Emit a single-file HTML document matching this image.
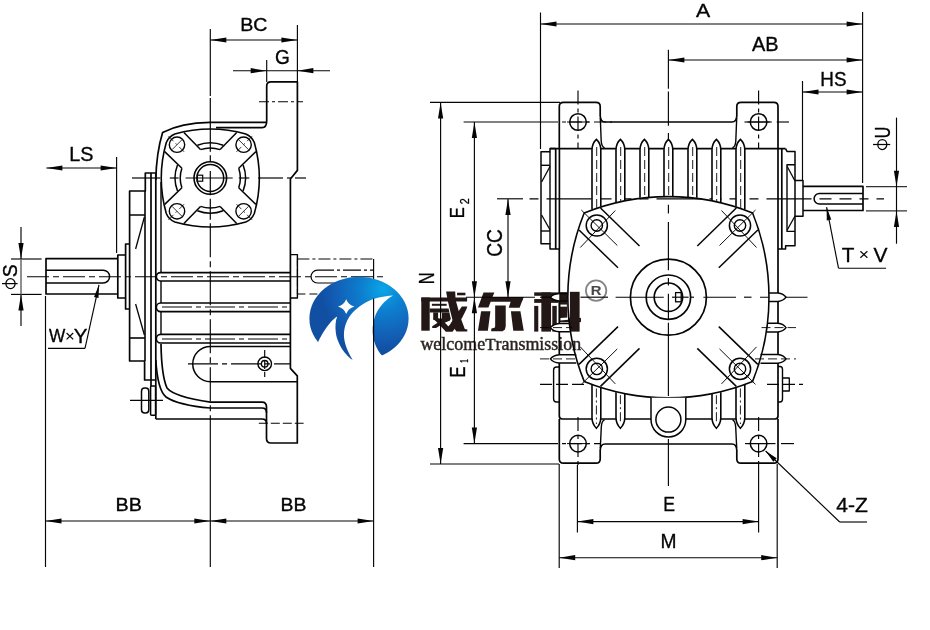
<!DOCTYPE html>
<html><head><meta charset="utf-8"><title>Dimensions</title>
<style>
html,body{margin:0;padding:0;background:#fff;}
body{width:930px;height:630px;overflow:hidden;font-family:"Liberation Sans",sans-serif;}
svg{display:block;will-change:transform;transform:translateZ(0)}
</style></head>
<body>
<svg width="930" height="630" viewBox="0 0 930 630">
<rect width="930" height="630" fill="#ffffff"/>
<line x1="210.3" y1="29.0" x2="210.3" y2="96.0" stroke="#050505" stroke-width="1.15" stroke-linecap="butt"/>
<line x1="297.4" y1="25.0" x2="297.4" y2="82.0" stroke="#050505" stroke-width="1.15" stroke-linecap="butt"/>
<line x1="210.3" y1="40.0" x2="297.4" y2="40.0" stroke="#050505" stroke-width="1.15" stroke-linecap="butt"/>
<polygon points="210.3,40.0 226.3,37.4 226.3,42.6" fill="#050505"/>
<polygon points="297.4,40.0 281.4,42.6 281.4,37.4" fill="#050505"/>
<text transform="translate(240.15,31.26) scale(1.0217,1)" font-family="'Liberation Sans', sans-serif" font-size="19.22" fill="#050505" stroke="#050505" stroke-width="0.35" stroke-linejoin="round">BC</text>
<line x1="266.7" y1="60.0" x2="266.7" y2="82.0" stroke="#050505" stroke-width="1.15" stroke-linecap="butt"/>
<line x1="233.0" y1="70.7" x2="330.0" y2="70.7" stroke="#050505" stroke-width="1.15" stroke-linecap="butt"/>
<polygon points="266.7,70.7 250.7,73.3 250.7,68.1" fill="#050505"/>
<polygon points="297.4,70.7 313.4,68.1 313.4,73.3" fill="#050505"/>
<text transform="translate(275.05,64.35) scale(0.9759,1)" font-family="'Liberation Sans', sans-serif" font-size="19.51" fill="#050505" stroke="#050505" stroke-width="0.35" stroke-linejoin="round">G</text>
<line x1="259.0" y1="101.7" x2="303.0" y2="101.7" stroke="#050505" stroke-width="1.15" stroke-dasharray="10 3 3 3" stroke-linecap="butt"/>
<line x1="116.6" y1="157.0" x2="116.6" y2="253.0" stroke="#050505" stroke-width="1.15" stroke-linecap="butt"/>
<line x1="46.4" y1="168.0" x2="116.6" y2="168.0" stroke="#050505" stroke-width="1.15" stroke-linecap="butt"/>
<polygon points="46.4,168.0 62.4,165.4 62.4,170.6" fill="#050505"/>
<polygon points="116.6,168.0 100.6,170.6 100.6,165.4" fill="#050505"/>
<text transform="translate(69.25,160.75) scale(0.9794,1)" font-family="'Liberation Sans', sans-serif" font-size="20.21" fill="#050505" stroke="#050505" stroke-width="0.35" stroke-linejoin="round">LS</text>
<line x1="11.0" y1="259.0" x2="41.6" y2="259.0" stroke="#050505" stroke-width="1.15" stroke-linecap="butt"/>
<line x1="11.0" y1="294.4" x2="41.6" y2="294.4" stroke="#050505" stroke-width="1.15" stroke-linecap="butt"/>
<line x1="21.0" y1="227.0" x2="21.0" y2="259.0" stroke="#050505" stroke-width="1.15" stroke-linecap="butt"/>
<line x1="21.0" y1="294.4" x2="21.0" y2="326.0" stroke="#050505" stroke-width="1.15" stroke-linecap="butt"/>
<line x1="21.0" y1="259.0" x2="21.0" y2="294.4" stroke="#6a6a6a" stroke-width="1.5" stroke-linecap="butt"/>
<polygon points="21.0,259.0 18.4,243.0 23.6,243.0" fill="#050505"/>
<polygon points="21.0,294.4 23.6,310.4 18.4,310.4" fill="#050505"/>
<text transform="translate(16.80,277.25) rotate(-90) scale(0.9503,1)" font-family="'Liberation Sans', sans-serif" font-size="20.49" fill="#050505" stroke="#050505" stroke-width="0.35" stroke-linejoin="round">S</text>
<ellipse cx="10.5" cy="283.6" rx="4.6" ry="5.0" fill="none" stroke="#050505" stroke-width="1.25"/><line x1="2.0" y1="283.6" x2="17.6" y2="283.6" stroke="#050505" stroke-width="1.25" stroke-linecap="butt"/>
<line x1="48.0" y1="348.4" x2="85.0" y2="348.4" stroke="#050505" stroke-width="1.15" stroke-linecap="butt"/>
<line x1="85.0" y1="348.4" x2="99.0" y2="284.8" stroke="#050505" stroke-width="1.15" stroke-linecap="butt"/>
<polygon points="99.0,284.8 98.5,298.0 94.0,297.0" fill="#050505"/>
<text transform="translate(49.05,341.75) scale(0.9720,1)" font-family="'Liberation Sans', sans-serif" font-size="17.75" fill="#050505" stroke="#050505" stroke-width="0.35" stroke-linejoin="round">W</text>
<text transform="translate(73.65,343.45) scale(1.0151,1)" font-family="'Liberation Sans', sans-serif" font-size="20.22" fill="#050505" stroke="#050505" stroke-width="0.35" stroke-linejoin="round">Y</text>
<line x1="66.6" y1="333.0" x2="73.2" y2="339.4" stroke="#050505" stroke-width="1.2" stroke-linecap="butt"/>
<line x1="66.6" y1="339.4" x2="73.2" y2="333.0" stroke="#050505" stroke-width="1.2" stroke-linecap="butt"/>
<line x1="45.5" y1="296.0" x2="45.5" y2="567.0" stroke="#050505" stroke-width="1.15" stroke-linecap="butt"/>
<line x1="210.3" y1="440.0" x2="210.3" y2="567.0" stroke="#050505" stroke-width="1.15" stroke-linecap="butt"/>
<line x1="373.6" y1="259.0" x2="373.6" y2="281.0" stroke="#050505" stroke-width="1.15" stroke-linecap="butt"/>
<line x1="45.5" y1="521.0" x2="373.6" y2="521.0" stroke="#050505" stroke-width="1.15" stroke-linecap="butt"/>
<polygon points="45.5,521.0 61.5,518.4 61.5,523.6" fill="#050505"/>
<polygon points="210.3,521.0 194.3,523.6 194.3,518.4" fill="#050505"/>
<polygon points="210.3,521.0 226.3,518.4 226.3,523.6" fill="#050505"/>
<polygon points="373.6,521.0 357.6,523.6 357.6,518.4" fill="#050505"/>
<text transform="translate(115.55,510.75) scale(1.0790,1)" font-family="'Liberation Sans', sans-serif" font-size="18.33" fill="#050505" stroke="#050505" stroke-width="0.35" stroke-linejoin="round">BB</text>
<text transform="translate(280.45,510.75) scale(1.0586,1)" font-family="'Liberation Sans', sans-serif" font-size="18.33" fill="#050505" stroke="#050505" stroke-width="0.35" stroke-linejoin="round">BB</text>
<line x1="210.3" y1="98.0" x2="210.3" y2="151.7" stroke="#050505" stroke-width="1.2" stroke-linecap="butt"/>
<line x1="210.3" y1="155.2" x2="210.3" y2="161.3" stroke="#050505" stroke-width="1.2" stroke-linecap="butt"/>
<line x1="210.3" y1="170.9" x2="210.3" y2="195.3" stroke="#050505" stroke-width="1.2" stroke-linecap="butt"/>
<line x1="210.3" y1="198.8" x2="210.3" y2="219.8" stroke="#050505" stroke-width="1.2" stroke-linecap="butt"/>
<line x1="210.3" y1="223.3" x2="210.3" y2="440.0" stroke="#050505" stroke-width="1.15" stroke-dasharray="34 4 6 4" stroke-linecap="butt"/>
<line x1="132.0" y1="178.0" x2="160.2" y2="178.0" stroke="#050505" stroke-width="1.2" stroke-linecap="butt"/>
<line x1="169.8" y1="178.0" x2="178.6" y2="178.0" stroke="#050505" stroke-width="1.2" stroke-linecap="butt"/>
<line x1="185.6" y1="178.0" x2="232.7" y2="178.0" stroke="#050505" stroke-width="1.2" stroke-linecap="butt"/>
<line x1="238.8" y1="178.0" x2="249.3" y2="178.0" stroke="#050505" stroke-width="1.2" stroke-linecap="butt"/>
<line x1="258.0" y1="178.0" x2="283.0" y2="178.0" stroke="#050505" stroke-width="1.2" stroke-linecap="butt"/>
<line x1="287.0" y1="178.0" x2="291.0" y2="178.0" stroke="#050505" stroke-width="1.2" stroke-linecap="butt"/>
<line x1="295.0" y1="178.0" x2="306.0" y2="178.0" stroke="#050505" stroke-width="1.2" stroke-linecap="butt"/>
<line x1="27.0" y1="276.7" x2="385.0" y2="276.7" stroke="#050505" stroke-width="1.15" stroke-dasharray="22 4 6 4" stroke-linecap="butt"/>
<line x1="162.0" y1="307.0" x2="290.0" y2="307.0" stroke="#050505" stroke-width="1.15" stroke-dasharray="30 4 5 4" stroke-linecap="butt"/>
<line x1="162.0" y1="339.0" x2="290.0" y2="339.0" stroke="#050505" stroke-width="1.15" stroke-dasharray="30 4 5 4" stroke-linecap="butt"/>
<line x1="188.0" y1="363.8" x2="290.0" y2="363.8" stroke="#050505" stroke-width="1.15" stroke-dasharray="30 4 5 4" stroke-linecap="butt"/>
<line x1="258.8" y1="423.2" x2="303.6" y2="423.2" stroke="#050505" stroke-width="1.15" stroke-dasharray="9 3" stroke-linecap="butt"/>
<line x1="130.0" y1="400.3" x2="163.0" y2="400.3" stroke="#050505" stroke-width="1.15" stroke-linecap="butt"/>
<path d="M262,127.6 Q266.7,127.6 266.7,121 L266.7,86 Q266.7,81.9 271,81.9 L297.4,81.9 L297.4,170.4 L290.4,179 L290.4,368.3 L297.3,375.8 L297.3,443 L271,443 Q266.5,443 266.5,438.5 L266.5,407 Q266.5,402.2 262,402.2 L210.4,402.2 C185,398.5 172,394 167,388 C162.5,378 161.3,362 161,344" fill="none" stroke="#050505" stroke-width="1.7" stroke-linejoin="round"/>
<path d="M266,122.4 L210,122.4 C192,122.6 175,126 162.6,132.6 C158.5,146 156.2,160 155.8,180" fill="none" stroke="#050505" stroke-width="1.7" stroke-linejoin="round"/>
<path d="M262,127.6 L216,127.6" fill="none" stroke="#050505" stroke-width="1.7" stroke-linejoin="round"/>
<path d="M155.8,360 C157,380 160,392 166,397 C175,403 192,406.5 210.4,408 L262,408 Q266.5,408 266.5,412.5" fill="none" stroke="#050505" stroke-width="1.7" stroke-linejoin="round"/>
<path d="M155.8,419 L262,419 Q266.5,419 266.5,423.5" fill="none" stroke="#050505" stroke-width="1.7" stroke-linejoin="round"/>
<line x1="155.8" y1="173.0" x2="155.8" y2="419.0" stroke="#050505" stroke-width="1.7" stroke-linecap="butt"/>
<line x1="151.0" y1="173.0" x2="151.0" y2="386.0" stroke="#050505" stroke-width="1.7" stroke-linecap="butt"/>
<line x1="161.0" y1="182.0" x2="161.0" y2="272.6" stroke="#050505" stroke-width="1.4" stroke-linecap="butt"/>
<line x1="161.0" y1="281.0" x2="161.0" y2="303.0" stroke="#050505" stroke-width="1.4" stroke-linecap="butt"/>
<line x1="161.0" y1="311.6" x2="161.0" y2="334.4" stroke="#050505" stroke-width="1.4" stroke-linecap="butt"/>
<path d="M155.8,173 L145.3,173 L145.3,191 L129.6,191 L129.6,361 L144.6,361 L144.6,380 L155.8,380" fill="none" stroke="#050505" stroke-width="1.7" stroke-linejoin="round"/>
<line x1="145.0" y1="191.0" x2="145.0" y2="361.0" stroke="#050505" stroke-width="1.6" stroke-linecap="butt"/>
<line x1="129.6" y1="215.0" x2="145.0" y2="215.0" stroke="#050505" stroke-width="1.5" stroke-linecap="butt"/>
<line x1="129.6" y1="338.0" x2="145.0" y2="338.0" stroke="#050505" stroke-width="1.6" stroke-linecap="butt"/>
<line x1="144.4" y1="217.0" x2="135.6" y2="249.0" stroke="#050505" stroke-width="1.3" stroke-linecap="butt"/>
<line x1="135.6" y1="304.0" x2="144.4" y2="335.0" stroke="#050505" stroke-width="1.3" stroke-linecap="butt"/>
<path d="M129.6,244 L125.6,244 L125.6,309 L129.6,309" fill="none" stroke="#050505" stroke-width="1.7" stroke-linejoin="round"/>
<path d="M125.6,255 L117.8,255 L117.8,298 L125.6,298" fill="none" stroke="#050505" stroke-width="1.7" stroke-linejoin="round"/>
<path d="M117.8,258.7 L46,258.7 L46,294 L117.8,294" fill="none" stroke="#050505" stroke-width="1.7" stroke-linejoin="round"/>
<path d="M46,270.2 L103.2,270.2 A6.4,6.4 0 0 1 103.2,283 L46,283" fill="none" stroke="#050505" stroke-width="1.5" stroke-linejoin="round"/>
<path d="M290.4,272.6 L160.5,272.6 A4.2,4.2 0 0 0 160.5,281 L290.4,281" fill="none" stroke="#050505" stroke-width="1.7" stroke-linejoin="round"/>
<path d="M290.4,303 L160.6,303 A4.3,4.3 0 0 0 160.6,311.6 L290.4,311.6" fill="none" stroke="#050505" stroke-width="1.7" stroke-linejoin="round"/>
<path d="M290.4,334.4 L160.6,334.4 A4.3,4.3 0 0 0 160.6,343 L290.4,343" fill="none" stroke="#050505" stroke-width="1.7" stroke-linejoin="round"/>
<path d="M290.4,346.4 L210.4,346.4 A17.65,17.65 0 0 0 210.4,381.7 L297.3,381.7" fill="none" stroke="#050505" stroke-width="1.5" stroke-linejoin="round"/>
<circle cx="264.7" cy="363.8" r="6.8" fill="none" stroke="#050505" stroke-width="1.4"/>
<circle cx="264.7" cy="363.8" r="3.3" fill="none" stroke="#050505" stroke-width="1.3"/>
<line x1="264.7" y1="350.0" x2="264.7" y2="377.0" stroke="#050505" stroke-width="1.15" stroke-dasharray="8 3" stroke-linecap="butt"/>
<rect x="141.5" y="388" width="7.3" height="25" rx="3.2" fill="none" stroke="#050505" stroke-width="1.5"/>
<rect x="150.6" y="386" width="5" height="29.3" rx="1" fill="none" stroke="#050505" stroke-width="1.5"/>
<path d="M290.4,254.6 L297.4,254.6 L297.4,298 L290.4,298" fill="none" stroke="#050505" stroke-width="1.4" stroke-linejoin="round"/>
<path d="M297.4,259 L373.6,259" fill="none" stroke="#050505" stroke-width="1.2" stroke-linejoin="round" stroke-dasharray="12 3 3 3"/>
<path d="M297.4,294 L332,294" fill="none" stroke="#050505" stroke-width="1.2" stroke-linejoin="round" stroke-dasharray="8 4"/>
<path d="M297.4,259 L297.4,294" fill="none" stroke="#050505" stroke-width="1.0" stroke-linejoin="round" stroke-dasharray="7 3"/>
<path d="M334,270.2 L317.4,270.2 A6.4,6.4 0 0 0 317.4,283 L340,283" fill="none" stroke="#050505" stroke-width="1.2" stroke-linejoin="round"/>
<path d="M337,270.2 L373.6,270.2" fill="none" stroke="#050505" stroke-width="1.2" stroke-linejoin="round" stroke-dasharray="3 3 18 3"/>
<path d="M174.8,134.0 A129.5,129.5 0 0 1 245.8,134.0 Q251.8,136.5 254.3,142.5 A129.5,129.5 0 0 1 254.3,213.5 Q251.8,219.5 245.8,222.0 A129.5,129.5 0 0 1 174.8,222.0 Q168.8,219.5 166.3,213.5 A129.5,129.5 0 0 1 166.3,142.5 Q168.8,136.5 174.8,134.0 Z" fill="none" stroke="#050505" stroke-width="1.6" stroke-linejoin="round"/>
<circle cx="177.0" cy="144.7" r="7.7" fill="none" stroke="#050505" stroke-width="1.4"/>
<line x1="184.1" y1="151.8" x2="167.8" y2="135.5" stroke="#050505" stroke-width="0.8" stroke-dasharray="7 3 2 3" stroke-linecap="butt"/>
<line x1="182.0" y1="139.7" x2="172.0" y2="149.7" stroke="#050505" stroke-width="0.8" stroke-linecap="butt"/>
<line x1="183.9" y1="132.4" x2="200.5" y2="149.6" stroke="#050505" stroke-width="1.5" stroke-linecap="butt"/>
<line x1="164.7" y1="151.6" x2="181.9" y2="168.2" stroke="#050505" stroke-width="1.5" stroke-linecap="butt"/>
<circle cx="177.0" cy="211.3" r="7.7" fill="none" stroke="#050505" stroke-width="1.4"/>
<line x1="184.1" y1="204.2" x2="167.8" y2="220.5" stroke="#050505" stroke-width="0.8" stroke-dasharray="7 3 2 3" stroke-linecap="butt"/>
<line x1="182.0" y1="216.3" x2="172.0" y2="206.3" stroke="#050505" stroke-width="0.8" stroke-linecap="butt"/>
<line x1="183.9" y1="223.6" x2="200.5" y2="206.4" stroke="#050505" stroke-width="1.5" stroke-linecap="butt"/>
<line x1="164.7" y1="204.4" x2="181.9" y2="187.8" stroke="#050505" stroke-width="1.5" stroke-linecap="butt"/>
<circle cx="243.6" cy="144.7" r="7.7" fill="none" stroke="#050505" stroke-width="1.4"/>
<line x1="236.5" y1="151.8" x2="252.8" y2="135.5" stroke="#050505" stroke-width="0.8" stroke-dasharray="7 3 2 3" stroke-linecap="butt"/>
<line x1="238.6" y1="139.7" x2="248.6" y2="149.7" stroke="#050505" stroke-width="0.8" stroke-linecap="butt"/>
<line x1="236.7" y1="132.4" x2="220.1" y2="149.6" stroke="#050505" stroke-width="1.5" stroke-linecap="butt"/>
<line x1="255.9" y1="151.6" x2="238.7" y2="168.2" stroke="#050505" stroke-width="1.5" stroke-linecap="butt"/>
<circle cx="243.6" cy="211.3" r="7.7" fill="none" stroke="#050505" stroke-width="1.4"/>
<line x1="236.5" y1="204.2" x2="252.8" y2="220.5" stroke="#050505" stroke-width="0.8" stroke-dasharray="7 3 2 3" stroke-linecap="butt"/>
<line x1="238.6" y1="216.3" x2="248.6" y2="206.3" stroke="#050505" stroke-width="0.8" stroke-linecap="butt"/>
<line x1="236.7" y1="223.6" x2="220.1" y2="206.4" stroke="#050505" stroke-width="1.5" stroke-linecap="butt"/>
<line x1="255.9" y1="204.4" x2="238.7" y2="187.8" stroke="#050505" stroke-width="1.5" stroke-linecap="butt"/>
<path d="M200.5,149.6 A30,30 0 0 1 220.1,149.6" fill="none" stroke="#050505" stroke-width="1.5" stroke-linejoin="round"/>
<path d="M197.4,145.2 A35.3,35.3 0 0 1 223.2,145.2" fill="none" stroke="#050505" stroke-width="1.5" stroke-linejoin="round"/>
<path d="M238.7,168.2 A30,30 0 0 1 238.7,187.8" fill="none" stroke="#050505" stroke-width="1.5" stroke-linejoin="round"/>
<path d="M243.1,165.1 A35.3,35.3 0 0 1 243.1,190.9" fill="none" stroke="#050505" stroke-width="1.5" stroke-linejoin="round"/>
<path d="M220.1,206.4 A30,30 0 0 1 200.5,206.4" fill="none" stroke="#050505" stroke-width="1.5" stroke-linejoin="round"/>
<path d="M223.2,210.8 A35.3,35.3 0 0 1 197.4,210.8" fill="none" stroke="#050505" stroke-width="1.5" stroke-linejoin="round"/>
<path d="M181.9,187.8 A30,30 0 0 1 181.9,168.2" fill="none" stroke="#050505" stroke-width="1.5" stroke-linejoin="round"/>
<path d="M177.5,190.9 A35.3,35.3 0 0 1 177.5,165.1" fill="none" stroke="#050505" stroke-width="1.5" stroke-linejoin="round"/>
<circle cx="210.3" cy="178.0" r="16.3" fill="none" stroke="#050505" stroke-width="1.6"/>
<circle cx="210.3" cy="178.0" r="13.4" fill="none" stroke="#050505" stroke-width="1.5"/>
<rect x="197.3" y="175.2" width="5.4" height="6" fill="none" stroke="#050505" stroke-width="1.2"/>
<defs>
<radialGradient id="lg" gradientUnits="userSpaceOnUse" cx="383" cy="289" r="62">
<stop offset="0" stop-color="#0aa6e8"/><stop offset="0.35" stop-color="#0d7fcf"/><stop offset="0.75" stop-color="#1260b6"/><stop offset="1" stop-color="#114fa3"/>
</radialGradient>
</defs>
<ellipse cx="359" cy="318.5" rx="49.6" ry="41.8" fill="url(#lg)"/>
<path d="M316.8,344.8 C320.3,337 325,328.6 330.4,322.6 C333,319.7 335,318 337.2,316.6 C335.4,321 335.1,327 335.9,333.3 C336.4,337 337.4,339.5 338.3,341.5 C339.6,345 341.2,347.8 343.1,350.4 C345,353 347.2,355.6 349.9,357.9 C350.9,358.8 351.9,359.7 353.2,360.9 L340,367 L316,354 Z" fill="#fff"/>
<path d="M353,360.6 C350.6,356.6 349,353.6 347.9,351 C346.2,347.2 345.2,344.2 344.7,341.5 C343.7,337 343.6,332.5 344.7,327.8 C345.5,324 346.8,321 348.9,317.4 C351,314 354,311 357.6,308 C361,305.4 364.5,303 368.7,301 C372,299.3 376,298 380,297.2 C384,296.2 388,295.8 393,295.4 C389.5,297.3 387,299.5 384.6,301.8 C382,304.3 380,307 378.2,309.8 C376.4,312.6 375.2,315.5 374.2,319.2 C373,323 372.6,326.5 372.6,330.4 C372.6,334.5 373.2,338 374.3,341.6 C375.3,345 376.5,347.8 378.2,350.4 C379.5,352.6 381,354.6 383,356.6 L378,364 L354,366 Z" fill="#fff"/>
<path d="M338.0,306.6 Q344.09999999999997,304.70000000000005 346.2,299.20000000000005 Q348.3,304.70000000000005 354.4,306.6 Q348.3,308.5 346.2,314.0 Q344.09999999999997,308.5 338.0,306.6 Z" fill="#fff"/>
<polygon points="421.30,297.50 429.70,297.50 429.70,330.70 421.30,330.70" fill="#231815"/>
<polygon points="421.30,297.50 467.10,297.50 467.10,301.50 421.30,301.50" fill="#231815"/>
<polygon points="446.10,291.60 455.20,291.60 455.60,300.00 457.20,305.50 460.50,317.50 464.80,329.00 467.30,329.50 467.30,331.40 456.50,331.40 454.60,329.00 452.00,318.00 449.50,308.00 447.60,300.00" fill="#231815"/>
<polygon points="461.90,306.50 467.30,306.50 466.50,309.00 462.00,318.00 457.50,325.00 452.70,331.40 445.70,331.40 445.70,329.30 450.00,324.50 454.00,318.00 458.00,312.00" fill="#231815"/>
<polygon points="457.10,292.70 465.40,292.70 465.40,295.30 457.10,295.30" fill="#231815"/>
<polygon points="431.90,303.80 446.70,303.80 446.70,305.80 431.90,305.80" fill="#231815"/>
<polygon points="429.70,308.60 448.60,308.60 449.40,312.40 429.70,312.40" fill="#231815"/>
<polygon points="433.20,312.40 438.10,312.40 438.10,318.90 433.20,318.90" fill="#231815"/>
<polygon points="441.90,312.40 449.40,312.40 450.80,318.90 441.90,318.90" fill="#231815"/>
<polygon points="433.20,318.40 450.80,318.40 450.00,320.50 445.80,322.20 436.00,328.10 432.20,328.10 432.20,326.30 439.50,321.50 433.20,319.80" fill="#231815"/>
<polygon points="433.20,318.40 438.50,318.40 446.00,323.80 452.70,331.40 445.70,331.40 441.00,326.50" fill="#231815"/>
<polygon points="483.51,292.54 494.38,292.54 492.48,296.90 523.59,296.90 521.84,301.67 490.65,301.67 488.43,307.38 477.95,307.38" fill="#231815"/>
<polygon points="512.08,296.90 523.59,296.90 519.62,307.78 508.75,307.78" fill="#231815"/>
<polygon points="495.17,305.48 505.73,305.48 505.73,326.27 504.94,329.44 502.56,331.19 491.05,331.19 491.44,328.49 494.62,327.86 495.17,326.27" fill="#231815"/>
<polygon points="481.13,311.19 490.41,311.19 487.87,330.79 477.95,330.79" fill="#231815"/>
<polygon points="510.89,311.19 520.41,311.19 523.75,330.79 513.27,330.79" fill="#231815"/>
<polygon points="534.19,292.38 558.48,292.38 558.48,295.81 534.19,295.81" fill="#231815"/>
<polygon points="541.33,292.38 551.05,292.38 551.05,331.62 541.33,331.62" fill="#231815"/>
<polygon points="534.19,299.05 558.48,299.05 558.48,302.86 534.19,302.86" fill="#231815"/>
<polygon points="534.19,305.90 538.29,305.90 538.29,331.62 534.19,331.62" fill="#231815"/>
<polygon points="552.29,305.90 556.76,305.90 556.76,331.62 552.29,331.62" fill="#231815"/>
<polygon points="559.43,292.19 567.24,292.19 567.24,322.10 559.43,322.10" fill="#231815"/>
<polygon points="569.90,291.81 579.62,291.81 579.62,331.62 569.90,331.62" fill="#231815"/>
<polygon points="559.43,317.90 580.95,317.90 580.95,322.10 559.43,322.10" fill="#231815"/>
<polygon points="560.38,304.57 566.86,304.57 566.86,306.67 560.38,306.67" fill="#fff"/>
<polygon points="560.38,318.10 568.00,317.62 568.00,319.81 560.38,320.38" fill="#fff"/>
<circle cx="596.1" cy="290.6" r="10.2" fill="none" stroke="#858585" stroke-width="1.8"/>
<text transform="translate(590.85,295.15) scale(1.2417,1)" font-family="'Liberation Sans', sans-serif" font-size="11.93" font-weight="bold" fill="#484848" stroke="#484848" stroke-width="0.1" stroke-linejoin="round">R</text>
<text id="wel" transform="translate(420.4,349.8) scale(0.9711,0.97)" font-family="'Liberation Serif', serif" font-size="18.5" fill="#2b2422" stroke="#2b2422" stroke-width="0.45">welcome<tspan font-size="17.4">T</tspan>ransmission</text>
<line x1="373.6" y1="298.6" x2="373.6" y2="567.0" stroke="#050505" stroke-width="1.15" stroke-linecap="butt"/>
<line x1="540.5" y1="12.5" x2="540.5" y2="149.0" stroke="#050505" stroke-width="1.15" stroke-linecap="butt"/>
<line x1="862.6" y1="12.0" x2="862.6" y2="183.0" stroke="#050505" stroke-width="1.15" stroke-linecap="butt"/>
<line x1="540.5" y1="24.0" x2="862.6" y2="24.0" stroke="#050505" stroke-width="1.15" stroke-linecap="butt"/>
<polygon points="540.5,24.0 556.5,21.4 556.5,26.6" fill="#050505"/>
<polygon points="862.6,24.0 846.6,26.6 846.6,21.4" fill="#050505"/>
<text transform="translate(695.95,16.95) scale(1.1338,1)" font-family="'Liberation Sans', sans-serif" font-size="18.76" fill="#050505" stroke="#050505" stroke-width="0.35" stroke-linejoin="round">A</text>
<line x1="668.4" y1="49.8" x2="668.4" y2="88.8" stroke="#050505" stroke-width="1.15" stroke-linecap="butt"/>
<line x1="668.4" y1="60.0" x2="862.6" y2="60.0" stroke="#050505" stroke-width="1.15" stroke-linecap="butt"/>
<polygon points="668.4,60.0 684.4,57.4 684.4,62.6" fill="#050505"/>
<polygon points="862.6,60.0 846.6,62.6 846.6,57.4" fill="#050505"/>
<text transform="translate(752.05,50.65) scale(1.0300,1)" font-family="'Liberation Sans', sans-serif" font-size="19.35" fill="#050505" stroke="#050505" stroke-width="0.35" stroke-linejoin="round">AB</text>
<line x1="802.5" y1="81.0" x2="802.5" y2="180.0" stroke="#050505" stroke-width="1.15" stroke-linecap="butt"/>
<line x1="802.5" y1="92.0" x2="862.6" y2="92.0" stroke="#050505" stroke-width="1.15" stroke-linecap="butt"/>
<polygon points="802.5,92.0 818.5,89.4 818.5,94.6" fill="#050505"/>
<polygon points="862.6,92.0 846.6,94.6 846.6,89.4" fill="#050505"/>
<text transform="translate(820.35,86.25) scale(0.9594,1)" font-family="'Liberation Sans', sans-serif" font-size="19.65" fill="#050505" stroke="#050505" stroke-width="0.35" stroke-linejoin="round">HS</text>
<line x1="866.0" y1="186.7" x2="907.0" y2="186.7" stroke="#333" stroke-width="1.3" stroke-linecap="butt"/>
<line x1="866.0" y1="210.9" x2="907.0" y2="210.9" stroke="#333" stroke-width="1.3" stroke-linecap="butt"/>
<line x1="896.5" y1="117.6" x2="896.5" y2="243.7" stroke="#050505" stroke-width="1.15" stroke-linecap="butt"/>
<polygon points="896.5,186.7 893.9,170.7 899.1,170.7" fill="#050505"/>
<polygon points="896.5,210.9 899.1,226.9 893.9,226.9" fill="#050505"/>
<text transform="translate(889.88,138.15) rotate(-90) scale(0.7466,1)" font-family="'Liberation Sans', sans-serif" font-size="21.51" fill="#050505" stroke="#050505" stroke-width="0.35" stroke-linejoin="round">U</text>
<ellipse cx="882.3" cy="144.5" rx="4.5" ry="5.0" fill="none" stroke="#050505" stroke-width="1.25"/><line x1="873.0" y1="144.5" x2="890.2" y2="144.5" stroke="#050505" stroke-width="1.25" stroke-linecap="butt"/>
<text transform="translate(841.65,261.65) scale(1.0072,1)" font-family="'Liberation Sans', sans-serif" font-size="20.51" fill="#050505" stroke="#050505" stroke-width="0.35" stroke-linejoin="round">T</text>
<text transform="translate(873.45,261.75) scale(1.0155,1)" font-family="'Liberation Sans', sans-serif" font-size="20.65" fill="#050505" stroke="#050505" stroke-width="0.35" stroke-linejoin="round">V</text>
<line x1="860.4" y1="251.3" x2="867.4" y2="257.7" stroke="#050505" stroke-width="1.2" stroke-linecap="butt"/>
<line x1="860.4" y1="257.7" x2="867.4" y2="251.3" stroke="#050505" stroke-width="1.2" stroke-linecap="butt"/>
<line x1="838.5" y1="268.2" x2="886.0" y2="268.2" stroke="#050505" stroke-width="1.15" stroke-linecap="butt"/>
<line x1="838.5" y1="268.2" x2="826.6" y2="207.2" stroke="#050505" stroke-width="1.15" stroke-linecap="butt"/>
<polygon points="826.6,207.2 831.3,219.5 826.8,220.4" fill="#050505"/>
<line x1="430.0" y1="102.4" x2="560.0" y2="102.4" stroke="#050505" stroke-width="1.15" stroke-linecap="butt"/>
<line x1="430.0" y1="464.0" x2="559.0" y2="464.0" stroke="#050505" stroke-width="1.15" stroke-linecap="butt"/>
<line x1="440.6" y1="102.4" x2="440.6" y2="464.0" stroke="#050505" stroke-width="1.15" stroke-linecap="butt"/>
<polygon points="440.6,102.4 443.2,118.4 438.0,118.4" fill="#050505"/>
<polygon points="440.6,464.0 438.0,448.0 443.2,448.0" fill="#050505"/>
<text transform="translate(433.60,284.25) rotate(-90) scale(0.7549,1)" font-family="'Liberation Sans', sans-serif" font-size="21.82" fill="#050505" stroke="#050505" stroke-width="0.35" stroke-linejoin="round">N</text>
<line x1="463.6" y1="122.0" x2="546.0" y2="122.0" stroke="#050505" stroke-width="1.15" stroke-linecap="butt"/>
<line x1="546.0" y1="122.0" x2="612.0" y2="122.0" stroke="#050505" stroke-width="1.15" stroke-dasharray="12 4 4 4" stroke-linecap="butt"/>
<line x1="463.6" y1="443.6" x2="546.0" y2="443.6" stroke="#050505" stroke-width="1.15" stroke-linecap="butt"/>
<line x1="546.0" y1="443.6" x2="600.0" y2="443.6" stroke="#050505" stroke-width="1.15" stroke-dasharray="12 4 4 4" stroke-linecap="butt"/>
<line x1="474.4" y1="122.0" x2="474.4" y2="443.6" stroke="#050505" stroke-width="1.15" stroke-linecap="butt"/>
<polygon points="474.4,122.0 477.0,138.0 471.8,138.0" fill="#050505"/>
<polygon points="474.4,297.2 471.8,281.2 477.0,281.2" fill="#050505"/>
<polygon points="474.4,297.2 477.0,313.2 471.8,313.2" fill="#050505"/>
<polygon points="474.4,443.6 471.8,427.6 477.0,427.6" fill="#050505"/>
<text transform="translate(464.40,218.35) rotate(-90) scale(0.8108,1)" font-family="'Liberation Sans', sans-serif" font-size="20.51" fill="#050505" stroke="#050505" stroke-width="0.35" stroke-linejoin="round">E</text>
<text transform="translate(468.90,204.35) rotate(-90) scale(0.8196,1)" font-family="'Liberation Sans', sans-serif" font-size="13.19" fill="#050505" stroke="#050505" stroke-width="0.3" stroke-linejoin="round">2</text>
<text transform="translate(464.90,377.45) rotate(-90) scale(0.7831,1)" font-family="'Liberation Sans', sans-serif" font-size="21.24" fill="#050505" stroke="#050505" stroke-width="0.35" stroke-linejoin="round">E</text>
<text transform="translate(468.20,362.85) rotate(-90) scale(0.5353,1)" font-family="'Liberation Sans', sans-serif" font-size="11.78" fill="#050505" stroke="#050505" stroke-width="0.3" stroke-linejoin="round">1</text>
<line x1="497.0" y1="198.8" x2="523.0" y2="198.8" stroke="#050505" stroke-width="1.15" stroke-linecap="butt"/>
<line x1="529.5" y1="198.8" x2="884.0" y2="198.8" stroke="#050505" stroke-width="1.15" stroke-dasharray="9 8 45 8 12 8 12 8" stroke-linecap="butt"/>
<line x1="508.0" y1="199.0" x2="508.0" y2="297.2" stroke="#050505" stroke-width="1.15" stroke-linecap="butt"/>
<polygon points="508.0,199.0 510.6,215.0 505.4,215.0" fill="#050505"/>
<polygon points="508.0,297.2 505.4,281.2 510.6,281.2" fill="#050505"/>
<text transform="translate(501.69,256.85) rotate(-90) scale(0.8982,1)" font-family="'Liberation Sans', sans-serif" font-size="21.34" fill="#050505" stroke="#050505" stroke-width="0.35" stroke-linejoin="round">CC</text>
<line x1="466.0" y1="297.2" x2="535.0" y2="297.2" stroke="#050505" stroke-width="1.15" stroke-linecap="butt"/>
<line x1="540.0" y1="297.2" x2="552.0" y2="297.2" stroke="#050505" stroke-width="1.15" stroke-linecap="butt"/>
<line x1="580.5" y1="297.2" x2="608.0" y2="297.2" stroke="#050505" stroke-width="1.15" stroke-linecap="butt"/>
<line x1="615.6" y1="297.2" x2="663.8" y2="297.2" stroke="#050505" stroke-width="1.15" stroke-linecap="butt"/>
<line x1="672.0" y1="297.2" x2="688.6" y2="297.2" stroke="#050505" stroke-width="1.15" stroke-linecap="butt"/>
<line x1="690.9" y1="297.2" x2="694.0" y2="297.2" stroke="#050505" stroke-width="1.15" stroke-linecap="butt"/>
<line x1="703.4" y1="297.2" x2="736.0" y2="297.2" stroke="#050505" stroke-width="1.15" stroke-linecap="butt"/>
<line x1="744.0" y1="297.2" x2="751.5" y2="297.2" stroke="#050505" stroke-width="1.15" stroke-linecap="butt"/>
<line x1="760.0" y1="297.2" x2="807.5" y2="297.2" stroke="#050505" stroke-width="1.15" stroke-linecap="butt"/>
<line x1="668.4" y1="91.5" x2="668.4" y2="125.7" stroke="#050505" stroke-width="1.15" stroke-linecap="butt"/>
<line x1="668.4" y1="133.0" x2="668.4" y2="148.6" stroke="#050505" stroke-width="1.15" stroke-linecap="butt"/>
<line x1="668.4" y1="204.7" x2="668.4" y2="213.4" stroke="#050505" stroke-width="1.15" stroke-linecap="butt"/>
<line x1="668.4" y1="222.0" x2="668.4" y2="270.3" stroke="#050505" stroke-width="1.15" stroke-linecap="butt"/>
<line x1="668.4" y1="277.9" x2="668.4" y2="285.4" stroke="#050505" stroke-width="1.15" stroke-linecap="butt"/>
<line x1="668.4" y1="293.7" x2="668.4" y2="319.9" stroke="#050505" stroke-width="1.15" stroke-linecap="butt"/>
<line x1="668.4" y1="322.8" x2="668.4" y2="396.0" stroke="#050505" stroke-width="1.15" stroke-linecap="butt"/>
<line x1="668.4" y1="409.0" x2="668.4" y2="421.0" stroke="#050505" stroke-width="1.15" stroke-linecap="butt"/>
<line x1="668.4" y1="423.0" x2="668.4" y2="434.0" stroke="#050505" stroke-width="1.15" stroke-linecap="butt"/>
<line x1="668.4" y1="439.0" x2="668.4" y2="486.0" stroke="#050505" stroke-width="1.15" stroke-linecap="butt"/>
<line x1="577.4" y1="465.0" x2="577.4" y2="532.6" stroke="#050505" stroke-width="1.15" stroke-linecap="butt"/>
<line x1="758.6" y1="465.0" x2="758.6" y2="532.6" stroke="#050505" stroke-width="1.15" stroke-linecap="butt"/>
<line x1="577.4" y1="521.6" x2="758.6" y2="521.6" stroke="#050505" stroke-width="1.15" stroke-linecap="butt"/>
<polygon points="577.4,521.6 593.4,519.0 593.4,524.2" fill="#050505"/>
<polygon points="758.6,521.6 742.6,524.2 742.6,519.0" fill="#050505"/>
<text transform="translate(663.15,511.35) scale(0.8871,1)" font-family="'Liberation Sans', sans-serif" font-size="19.93" fill="#050505" stroke="#050505" stroke-width="0.35" stroke-linejoin="round">E</text>
<line x1="559.2" y1="464.0" x2="559.2" y2="568.0" stroke="#050505" stroke-width="1.15" stroke-linecap="butt"/>
<line x1="777.2" y1="464.0" x2="777.2" y2="568.0" stroke="#050505" stroke-width="1.15" stroke-linecap="butt"/>
<line x1="559.2" y1="557.7" x2="777.2" y2="557.7" stroke="#050505" stroke-width="1.15" stroke-linecap="butt"/>
<polygon points="559.2,557.7 575.2,555.1 575.2,560.3" fill="#050505"/>
<polygon points="777.2,557.7 761.2,560.3 761.2,555.1" fill="#050505"/>
<text transform="translate(660.55,548.05) scale(0.9438,1)" font-family="'Liberation Sans', sans-serif" font-size="20.36" fill="#050505" stroke="#050505" stroke-width="0.35" stroke-linejoin="round">M</text>
<text transform="translate(836.25,512.35) scale(1.0420,1)" font-family="'Liberation Sans', sans-serif" font-size="20.22" fill="#050505" stroke="#050505" stroke-width="0.35" stroke-linejoin="round">4-Z</text>
<line x1="839.7" y1="522.0" x2="867.0" y2="522.0" stroke="#050505" stroke-width="1.15" stroke-linecap="butt"/>
<line x1="839.7" y1="522.0" x2="765.6" y2="451.0" stroke="#050505" stroke-width="1.15" stroke-linecap="butt"/>
<polygon points="765.6,451.0 776.7,458.2 773.3,461.8" fill="#050505"/>
<line x1="578.0" y1="90.5" x2="578.0" y2="149.0" stroke="#050505" stroke-width="1.15" stroke-dasharray="14 4 4 4" stroke-linecap="butt"/>
<line x1="578.0" y1="417.0" x2="578.0" y2="465.0" stroke="#050505" stroke-width="1.15" stroke-dasharray="14 4 4 4" stroke-linecap="butt"/>
<line x1="758.6" y1="90.5" x2="758.6" y2="149.0" stroke="#050505" stroke-width="1.15" stroke-dasharray="14 4 4 4" stroke-linecap="butt"/>
<line x1="758.6" y1="417.0" x2="758.6" y2="465.0" stroke="#050505" stroke-width="1.15" stroke-dasharray="14 4 4 4" stroke-linecap="butt"/>
<line x1="744.5" y1="122.0" x2="771.7" y2="122.0" stroke="#050505" stroke-width="1.15" stroke-linecap="butt"/>
<line x1="776.7" y1="122.0" x2="789.0" y2="122.0" stroke="#050505" stroke-width="1.15" stroke-linecap="butt"/>
<line x1="745.0" y1="443.6" x2="775.5" y2="443.6" stroke="#050505" stroke-width="1.15" stroke-linecap="butt"/>
<line x1="781.0" y1="443.6" x2="794.0" y2="443.6" stroke="#050505" stroke-width="1.15" stroke-linecap="butt"/>
<line x1="540.0" y1="384.4" x2="584.0" y2="384.4" stroke="#050505" stroke-width="1.15" stroke-dasharray="12 4" stroke-linecap="butt"/>
<line x1="767.0" y1="384.4" x2="803.0" y2="384.4" stroke="#050505" stroke-width="1.15" stroke-dasharray="12 4" stroke-linecap="butt"/>
<path d="M559.3,149 L559.3,106.5 Q559.3,102.4 563.5,102.4 L596,102.4 Q600.2,102.4 600.2,106.5 L600.2,116 Q600.6,122 605,122 L732,122 Q736.4,122 736.8,116 L736.8,106.5 Q736.8,102.4 741,102.4 L773.8,102.4 Q778,102.4 778,106.5 L778,149" fill="none" stroke="#050505" stroke-width="1.7" stroke-linejoin="round"/>
<path d="M600.3,118 L601.2,141 Q601.6,147 604.6,147.8" fill="none" stroke="#050505" stroke-width="1.4" stroke-linejoin="round"/>
<path d="M736.7,118 L735.8,141 Q735.4,147 732.4,147.8" fill="none" stroke="#050505" stroke-width="1.4" stroke-linejoin="round"/>
<path d="M559.3,419 L559.3,459 Q559.3,463.2 563.5,463.2 L596,463.2 Q600.2,463.2 600.2,459 L600.2,450 Q600.6,444 605,444 L732,444 Q736.4,444 736.8,450 L736.8,459 Q736.8,463.2 741,463.2 L773.8,463.2 Q778,463.2 778,459 L778,419" fill="none" stroke="#050505" stroke-width="1.7" stroke-linejoin="round"/>
<path d="M600.3,448 L601.3,427 Q601.7,420.6 604.6,419.8" fill="none" stroke="#050505" stroke-width="1.4" stroke-linejoin="round"/>
<path d="M736.7,448 L735.7,427 Q735.3,420.6 732.4,419.8" fill="none" stroke="#050505" stroke-width="1.4" stroke-linejoin="round"/>
<circle cx="578.0" cy="122.0" r="8.3" fill="none" stroke="#050505" stroke-width="1.5"/>
<circle cx="578.0" cy="443.6" r="8.3" fill="none" stroke="#050505" stroke-width="1.5"/>
<line x1="567.0" y1="122.0" x2="589.0" y2="122.0" stroke="#050505" stroke-width="1.0" stroke-linecap="butt"/>
<line x1="567.0" y1="443.6" x2="589.0" y2="443.6" stroke="#050505" stroke-width="1.0" stroke-linecap="butt"/>
<circle cx="758.6" cy="122.0" r="8.3" fill="none" stroke="#050505" stroke-width="1.5"/>
<circle cx="758.6" cy="443.6" r="8.3" fill="none" stroke="#050505" stroke-width="1.5"/>
<line x1="747.6" y1="122.0" x2="769.6" y2="122.0" stroke="#050505" stroke-width="1.0" stroke-linecap="butt"/>
<line x1="747.6" y1="443.6" x2="769.6" y2="443.6" stroke="#050505" stroke-width="1.0" stroke-linecap="butt"/>
<line x1="550.0" y1="148.6" x2="785.6" y2="148.6" stroke="#050505" stroke-width="1.7" stroke-linecap="butt"/>
<path d="M559.3,249 L559.3,416 Q559.3,419 562.3,419 L775,419 Q778,419 778,416 L778,249" fill="none" stroke="#050505" stroke-width="1.7" stroke-linejoin="round"/>
<path d="M555.7,148.6 L550,148.6 L550,151.8 L541,151.8 L541,243.8 L550,243.8 L550,249 L559.5,249" fill="none" stroke="#050505" stroke-width="1.5" stroke-linejoin="round"/>
<line x1="555.7" y1="148.6" x2="555.7" y2="249.0" stroke="#050505" stroke-width="1.7" stroke-linecap="butt"/>
<line x1="559.4" y1="148.6" x2="559.4" y2="249.0" stroke="#050505" stroke-width="1.7" stroke-linecap="butt"/>
<line x1="550.0" y1="152.0" x2="550.0" y2="244.0" stroke="#050505" stroke-width="1.4" stroke-linecap="butt"/>
<line x1="541.0" y1="165.3" x2="550.0" y2="165.3" stroke="#050505" stroke-width="1.4" stroke-linecap="butt"/>
<line x1="541.0" y1="231.0" x2="550.0" y2="231.0" stroke="#050505" stroke-width="1.4" stroke-linecap="butt"/>
<line x1="550.0" y1="166.5" x2="541.6" y2="182.0" stroke="#050505" stroke-width="1.3" stroke-linecap="butt"/>
<line x1="541.6" y1="215.0" x2="550.0" y2="229.8" stroke="#050505" stroke-width="1.3" stroke-linecap="butt"/>
<path d="M785.6,148.6 L787,151.4 L795,151.4 L795,245.7 L785.6,245.7 L785.6,249 L778,249" fill="none" stroke="#050505" stroke-width="1.5" stroke-linejoin="round"/>
<line x1="778.0" y1="148.6" x2="778.0" y2="249.0" stroke="#050505" stroke-width="1.7" stroke-linecap="butt"/>
<line x1="781.8" y1="148.6" x2="781.8" y2="249.0" stroke="#050505" stroke-width="1.7" stroke-linecap="butt"/>
<path d="M795,164.8 L787,164.8 L787,231.4 L795,231.4" fill="none" stroke="#050505" stroke-width="1.4" stroke-linejoin="round"/>
<line x1="787.2" y1="166.5" x2="795.0" y2="181.0" stroke="#050505" stroke-width="1.3" stroke-linecap="butt"/>
<line x1="795.0" y1="216.0" x2="787.2" y2="230.0" stroke="#050505" stroke-width="1.3" stroke-linecap="butt"/>
<path d="M795,180.4 L803,180.4 L803,216.2 L795,216.2" fill="none" stroke="#050505" stroke-width="1.5" stroke-linejoin="round"/>
<path d="M803,186.4 L863,186.4 L863,210.5 L803,210.5" fill="none" stroke="#050505" stroke-width="1.7" stroke-linejoin="round"/>
<path d="M863,193.4 L819.4,193.4 A5.3,5.3 0 0 0 819.4,204 L863,204" fill="none" stroke="#050505" stroke-width="1.5" stroke-linejoin="round"/>
<path d="M592.0,209.4 L592.0,149.5 Q592.2,143 596.4,139.3 Q600.6,143 600.8,149.5 L600.8,206.4" fill="#fff" stroke="#050505" stroke-width="1.6"/>
<line x1="596.7" y1="147.0" x2="596.7" y2="207.9" stroke="#050505" stroke-width="0.9" stroke-dasharray="9 4" stroke-linecap="butt"/>
<path d="M616.0,202.2 L616.0,149.5 Q616.2,143 620.4,139.3 Q624.6,143 624.8,149.5 L624.8,200.3" fill="#fff" stroke="#050505" stroke-width="1.6"/>
<line x1="620.7" y1="147.0" x2="620.7" y2="201.2" stroke="#050505" stroke-width="0.9" stroke-dasharray="9 4" stroke-linecap="butt"/>
<path d="M640.0,197.8 L640.0,149.5 Q640.2,143 644.4,139.3 Q648.6,143 648.8,149.5 L648.8,196.9" fill="#fff" stroke="#050505" stroke-width="1.6"/>
<line x1="644.7" y1="147.0" x2="644.7" y2="197.3" stroke="#050505" stroke-width="0.9" stroke-dasharray="9 4" stroke-linecap="butt"/>
<path d="M664.0,196.0 L664.0,149.5 Q664.2,143 668.4,139.3 Q672.6,143 672.8,149.5 L672.8,196.0" fill="#fff" stroke="#050505" stroke-width="1.6"/>
<line x1="668.7" y1="147.0" x2="668.7" y2="196.0" stroke="#050505" stroke-width="0.9" stroke-dasharray="9 4" stroke-linecap="butt"/>
<path d="M688.0,196.9 L688.0,149.5 Q688.2,143 692.4,139.3 Q696.6,143 696.8,149.5 L696.8,197.8" fill="#fff" stroke="#050505" stroke-width="1.6"/>
<line x1="692.7" y1="147.0" x2="692.7" y2="197.3" stroke="#050505" stroke-width="0.9" stroke-dasharray="9 4" stroke-linecap="butt"/>
<path d="M712.0,200.3 L712.0,149.5 Q712.2,143 716.4,139.3 Q720.6,143 720.8,149.5 L720.8,202.2" fill="#fff" stroke="#050505" stroke-width="1.6"/>
<line x1="716.7" y1="147.0" x2="716.7" y2="201.2" stroke="#050505" stroke-width="0.9" stroke-dasharray="9 4" stroke-linecap="butt"/>
<path d="M736.0,206.4 L736.0,149.5 Q736.2,143 740.4,139.3 Q744.6,143 744.8,149.5 L744.8,209.4" fill="#fff" stroke="#050505" stroke-width="1.6"/>
<line x1="740.7" y1="147.0" x2="740.7" y2="207.9" stroke="#050505" stroke-width="0.9" stroke-dasharray="9 4" stroke-linecap="butt"/>
<path d="M592.0,385.0 L592.0,418 Q592.2,424 596.4,428.3 Q600.6,424 600.8,418 L600.8,388.0" fill="#fff" stroke="#050505" stroke-width="1.6"/>
<line x1="596.4" y1="388.5" x2="596.4" y2="424.0" stroke="#050505" stroke-width="0.9" stroke-dasharray="9 3 2 3" stroke-linecap="butt"/>
<path d="M616.0,392.2 L616.0,418 Q616.2,424 620.4,428.3 Q624.6,424 624.8,418 L624.8,394.1" fill="#fff" stroke="#050505" stroke-width="1.6"/>
<line x1="620.4" y1="395.2" x2="620.4" y2="424.0" stroke="#050505" stroke-width="0.9" stroke-dasharray="9 3 2 3" stroke-linecap="butt"/>
<path d="M712.0,394.1 L712.0,418 Q712.2,424 716.4,428.3 Q720.6,424 720.8,418 L720.8,392.2" fill="#fff" stroke="#050505" stroke-width="1.6"/>
<line x1="716.4" y1="395.2" x2="716.4" y2="424.0" stroke="#050505" stroke-width="0.9" stroke-dasharray="9 3 2 3" stroke-linecap="butt"/>
<path d="M736.0,388.0 L736.0,418 Q736.2,424 740.4,428.3 Q744.6,424 744.8,418 L744.8,385.0" fill="#fff" stroke="#050505" stroke-width="1.6"/>
<line x1="740.4" y1="388.5" x2="740.4" y2="424.0" stroke="#050505" stroke-width="0.9" stroke-dasharray="9 3 2 3" stroke-linecap="butt"/>
<path d="M559.3,293.5 Q553,294.0 550.4,297.2 Q553,300.4 559.3,300.9" fill="#fff" stroke="#050505" stroke-width="1.5"/>
<line x1="559.3" y1="293.5" x2="567.7" y2="293.5" stroke="#050505" stroke-width="1.5" stroke-linecap="butt"/>
<line x1="559.3" y1="300.9" x2="567.7" y2="300.9" stroke="#050505" stroke-width="1.5" stroke-linecap="butt"/>
<path d="M769.1,292.9 L778,292.9 Q783.6,293.6 786,297.2 Q783.6,300.8 778,301.5 L769.1,301.5" fill="#fff" stroke="#050505" stroke-width="1.5"/>
<path d="M569.8,323.4 L559.3,323.4 Q553,324.0 550.4,327.6 Q553,331.2 559.3,331.8 L569.8,331.8" fill="#fff" stroke="#050505" stroke-width="1.5"/>
<path d="M767.0,323.3 L778,323.3 Q783.6,324.0 786,327.6 Q783.6,331.2 778,331.9 L767.0,331.9" fill="#fff" stroke="#050505" stroke-width="1.5"/>
<line x1="540.0" y1="327.6" x2="572.3" y2="327.6" stroke="#050505" stroke-width="0.9" stroke-dasharray="9 4" stroke-linecap="butt"/>
<line x1="761.5" y1="327.6" x2="796.0" y2="327.6" stroke="#050505" stroke-width="0.9" stroke-dasharray="9 4" stroke-linecap="butt"/>
<path d="M576.3,354.7 L559.3,354.7 Q553,355.3 550.4,358.9 Q553,362.5 559.3,363.1 L576.3,363.1" fill="#fff" stroke="#050505" stroke-width="1.5"/>
<path d="M760.5,354.6 L778,354.6 Q783.6,355.3 786,358.9 Q783.6,362.5 778,363.2 L760.5,363.2" fill="#fff" stroke="#050505" stroke-width="1.5"/>
<line x1="540.0" y1="358.9" x2="578.8" y2="358.9" stroke="#050505" stroke-width="0.9" stroke-dasharray="9 4" stroke-linecap="butt"/>
<line x1="755.0" y1="358.9" x2="796.0" y2="358.9" stroke="#050505" stroke-width="0.9" stroke-dasharray="9 4" stroke-linecap="butt"/>
<path d="M584.1999999999999,213.0 A224.6,224.6 0 0 1 752.6,213.0 A224.6,224.6 0 0 1 752.6,381.4 A224.6,224.6 0 0 1 584.1999999999999,381.4 A224.6,224.6 0 0 1 584.1999999999999,213.0 Z" fill="none" stroke="#050505" stroke-width="1.6" stroke-linejoin="round"/>
<circle cx="668.4" cy="297.2" r="38.0" fill="none" stroke="#050505" stroke-width="1.7"/>
<circle cx="668.4" cy="297.2" r="22.2" fill="none" stroke="#050505" stroke-width="1.7"/>
<circle cx="668.4" cy="297.2" r="14.2" fill="none" stroke="#050505" stroke-width="1.7"/>
<rect x="675.6" y="292.6" width="5.6" height="9.2" fill="none" stroke="#050505" stroke-width="1.3"/>
<circle cx="596.8" cy="225.5" r="10.6" fill="none" stroke="#050505" stroke-width="1.5"/>
<circle cx="596.8" cy="225.5" r="5.7" fill="none" stroke="#050505" stroke-width="1.4"/>
<line x1="600.5" y1="208.0" x2="639.5" y2="246.0" stroke="#050505" stroke-width="1.5" stroke-linecap="butt"/>
<line x1="579.0" y1="230.0" x2="618.0" y2="267.8" stroke="#050505" stroke-width="1.5" stroke-linecap="butt"/>
<line x1="581.3" y1="210.0" x2="617.3" y2="245.5" stroke="#050505" stroke-width="0.95" stroke-linecap="butt"/>
<line x1="615.3" y1="210.5" x2="580.3" y2="247.5" stroke="#050505" stroke-width="0.95" stroke-linecap="butt"/>
<circle cx="596.8" cy="368.9" r="10.6" fill="none" stroke="#050505" stroke-width="1.5"/>
<circle cx="596.8" cy="368.9" r="5.7" fill="none" stroke="#050505" stroke-width="1.4"/>
<line x1="600.5" y1="386.4" x2="639.5" y2="348.4" stroke="#050505" stroke-width="1.5" stroke-linecap="butt"/>
<line x1="579.0" y1="364.4" x2="618.0" y2="326.6" stroke="#050505" stroke-width="1.5" stroke-linecap="butt"/>
<line x1="581.3" y1="384.4" x2="617.3" y2="348.9" stroke="#050505" stroke-width="0.95" stroke-linecap="butt"/>
<line x1="615.3" y1="383.9" x2="580.3" y2="346.9" stroke="#050505" stroke-width="0.95" stroke-linecap="butt"/>
<circle cx="740.0" cy="225.5" r="10.6" fill="none" stroke="#050505" stroke-width="1.5"/>
<circle cx="740.0" cy="225.5" r="5.7" fill="none" stroke="#050505" stroke-width="1.4"/>
<line x1="736.3" y1="208.0" x2="697.3" y2="246.0" stroke="#050505" stroke-width="1.5" stroke-linecap="butt"/>
<line x1="757.8" y1="230.0" x2="718.8" y2="267.8" stroke="#050505" stroke-width="1.5" stroke-linecap="butt"/>
<line x1="755.5" y1="210.0" x2="719.5" y2="245.5" stroke="#050505" stroke-width="0.95" stroke-linecap="butt"/>
<line x1="721.5" y1="210.5" x2="756.5" y2="247.5" stroke="#050505" stroke-width="0.95" stroke-linecap="butt"/>
<circle cx="740.0" cy="368.9" r="10.6" fill="none" stroke="#050505" stroke-width="1.5"/>
<circle cx="740.0" cy="368.9" r="5.7" fill="none" stroke="#050505" stroke-width="1.4"/>
<line x1="736.3" y1="386.4" x2="697.3" y2="348.4" stroke="#050505" stroke-width="1.5" stroke-linecap="butt"/>
<line x1="757.8" y1="364.4" x2="718.8" y2="326.6" stroke="#050505" stroke-width="1.5" stroke-linecap="butt"/>
<line x1="755.5" y1="384.4" x2="719.5" y2="348.9" stroke="#050505" stroke-width="0.95" stroke-linecap="butt"/>
<line x1="721.5" y1="383.9" x2="756.5" y2="346.9" stroke="#050505" stroke-width="0.95" stroke-linecap="butt"/>
<path d="M651,397.7 L651,419.6 A17.4,17.4 0 0 0 685.8,419.6 L685.8,397.7" fill="#fff" stroke="#050505" stroke-width="1.5"/>
<circle cx="668.4" cy="419.6" r="12.5" fill="none" stroke="#050505" stroke-width="1.5"/>
<path d="M559.3,367 L556.6,367 Q553.6,367 553.6,370 L553.6,399 Q553.6,402 556.6,402 L559.3,402" fill="none" stroke="#050505" stroke-width="1.4" stroke-linejoin="round"/>
<path d="M778,366.5 L780,366.5 Q782.5,366.5 782.5,369.5 L782.5,399 Q782.5,402 780,402 L778,402" fill="none" stroke="#050505" stroke-width="1.4" stroke-linejoin="round"/>
<path d="M782.5,378 L789.3,378 L789.3,391 L782.5,391" fill="none" stroke="#050505" stroke-width="1.3" stroke-linejoin="round"/>
</svg>
</body></html>
